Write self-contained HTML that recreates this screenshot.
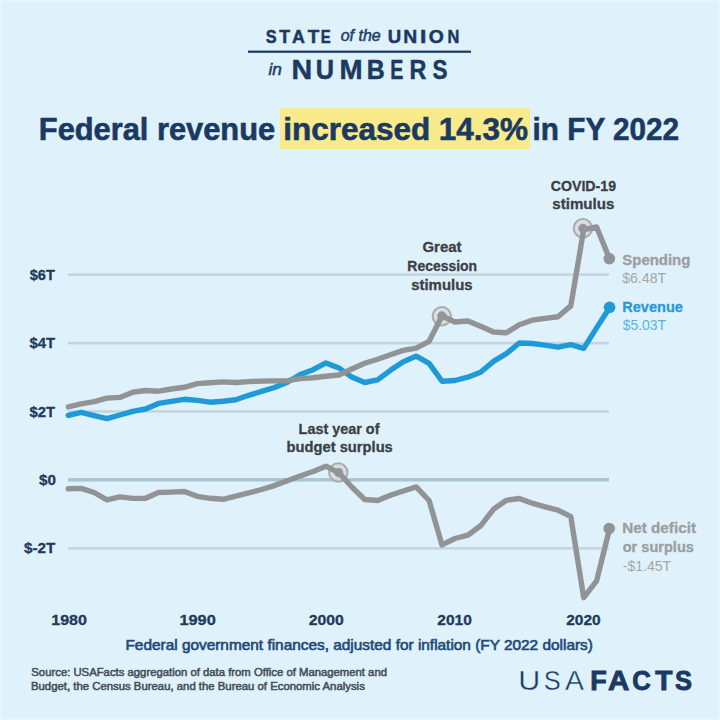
<!DOCTYPE html>
<html><head><meta charset="utf-8"><style>
html,body{margin:0;padding:0;background:#dff1fb;}
svg{display:block;}
text{font-family:"Liberation Sans",sans-serif;}
</style></head><body>
<svg width="720" height="720" viewBox="0 0 720 720">
<rect x="0" y="0" width="720" height="720" fill="#dff1fb"/>
<rect x="0.75" y="0.75" width="718.5" height="718.5" fill="none" stroke="#e3f7fc" stroke-width="1.5"/>
<text transform="translate(265.76,43.3) scale(0.868,1)" font-size="18.71" font-weight="bold" fill="#1a3a62" stroke="#1a3a62" stroke-width="0.5">S</text>
<text transform="translate(279.22,43.3) scale(0.951,1)" font-size="18.71" font-weight="bold" fill="#1a3a62" stroke="#1a3a62" stroke-width="0.5">T</text>
<text transform="translate(292.06,43.3) scale(0.955,1)" font-size="18.71" font-weight="bold" fill="#1a3a62" stroke="#1a3a62" stroke-width="0.5">A</text>
<text transform="translate(307.71,43.3) scale(1.005,1)" font-size="18.71" font-weight="bold" fill="#1a3a62" stroke="#1a3a62" stroke-width="0.5">T</text>
<text transform="translate(320.76,43.3) scale(0.792,1)" font-size="18.71" font-weight="bold" fill="#1a3a62" stroke="#1a3a62" stroke-width="0.5">E</text>
<text transform="translate(387.63,43.3) scale(0.993,1)" font-size="18.71" font-weight="bold" fill="#1a3a62" stroke="#1a3a62" stroke-width="0.5">U</text>
<text transform="translate(403.35,43.3) scale(1.032,1)" font-size="18.71" font-weight="bold" fill="#1a3a62" stroke="#1a3a62" stroke-width="0.5">N</text>
<text transform="translate(419.90,43.3) scale(1.221,1)" font-size="18.71" font-weight="bold" fill="#1a3a62" stroke="#1a3a62" stroke-width="0.5">I</text>
<text transform="translate(428.73,43.3) scale(1.031,1)" font-size="18.71" font-weight="bold" fill="#1a3a62" stroke="#1a3a62" stroke-width="0.5">O</text>
<text transform="translate(447.55,43.3) scale(0.875,1)" font-size="18.71" font-weight="bold" fill="#1a3a62" stroke="#1a3a62" stroke-width="0.5">N</text>
<text transform="translate(291.60,79.0) scale(1.027,1)" font-size="27.86" font-weight="bold" fill="#1a3a62" stroke="#1a3a62" stroke-width="0.5">N</text>
<text transform="translate(315.68,79.0) scale(0.909,1)" font-size="27.86" font-weight="bold" fill="#1a3a62" stroke="#1a3a62" stroke-width="0.5">U</text>
<text transform="translate(339.56,79.0) scale(0.995,1)" font-size="27.86" font-weight="bold" fill="#1a3a62" stroke="#1a3a62" stroke-width="0.5">M</text>
<text transform="translate(366.86,79.0) scale(0.894,1)" font-size="27.86" font-weight="bold" fill="#1a3a62" stroke="#1a3a62" stroke-width="0.5">B</text>
<text transform="translate(390.23,79.0) scale(0.705,1)" font-size="27.86" font-weight="bold" fill="#1a3a62" stroke="#1a3a62" stroke-width="0.5">E</text>
<text transform="translate(409.47,79.0) scale(0.838,1)" font-size="27.86" font-weight="bold" fill="#1a3a62" stroke="#1a3a62" stroke-width="0.5">R</text>
<text transform="translate(432.43,79.0) scale(0.808,1)" font-size="27.86" font-weight="bold" fill="#1a3a62" stroke="#1a3a62" stroke-width="0.5">S</text>
<text transform="translate(518.36,689.8) scale(1.125,1)" font-size="27.14" font-weight="normal" fill="#1a3a62" stroke="#dff1fb" stroke-width="0.35">U</text>
<text transform="translate(543.63,689.8) scale(0.937,1)" font-size="27.14" font-weight="normal" fill="#1a3a62" stroke="#dff1fb" stroke-width="0.35">S</text>
<text transform="translate(565.00,689.8) scale(1.047,1)" font-size="27.14" font-weight="normal" fill="#1a3a62" stroke="#dff1fb" stroke-width="0.35">A</text>
<text transform="translate(590.21,689.8) scale(0.995,1)" font-size="27.14" font-weight="bold" fill="#1a3a62" stroke="#1a3a62" stroke-width="0.9">F</text>
<text transform="translate(608.11,689.8) scale(1.089,1)" font-size="27.14" font-weight="bold" fill="#1a3a62" stroke="#1a3a62" stroke-width="0.9">A</text>
<text transform="translate(632.27,689.8) scale(0.947,1)" font-size="27.14" font-weight="bold" fill="#1a3a62" stroke="#1a3a62" stroke-width="0.9">C</text>
<text transform="translate(655.32,689.8) scale(1.037,1)" font-size="27.14" font-weight="bold" fill="#1a3a62" stroke="#1a3a62" stroke-width="0.9">T</text>
<text transform="translate(674.94,689.8) scale(0.939,1)" font-size="27.14" font-weight="bold" fill="#1a3a62" stroke="#1a3a62" stroke-width="0.9">S</text>
<rect x="248" y="50.6" width="223" height="2.2" fill="#1a3a62"/>
<rect x="280" y="108.2" width="250" height="40.8" fill="#f9eb8c"/>
<g fill="#c1d5dd">
<rect x="68" y="273.4" width="541" height="2.5"/>
<rect x="68" y="341.9" width="541" height="2.5"/>
<rect x="68" y="410.2" width="541" height="2.5"/>
<rect x="68" y="547.1" width="541" height="2.5"/>
</g>
<rect x="68" y="478.1" width="541" height="3.4" fill="#a9c5d1"/>
<text x="38.84" y="139.7" font-size="31" font-weight="bold" font-style="normal" fill="#1a3a62" stroke="#1a3a62" stroke-width="0.6" textLength="236.3" lengthAdjust="spacingAndGlyphs">Federal revenue</text>
<text x="283.3" y="139.7" font-size="31" font-weight="bold" font-style="normal" fill="#1a3a62" stroke="#1a3a62" stroke-width="0.6" textLength="244.73" lengthAdjust="spacingAndGlyphs">increased 14.3%</text>
<text x="532.62" y="139.7" font-size="31" font-weight="bold" font-style="normal" fill="#1a3a62" stroke="#1a3a62" stroke-width="0.6" textLength="146.33" lengthAdjust="spacingAndGlyphs">in FY 2022</text>
<text x="29.71" y="279.6" font-size="14.5" font-weight="bold" font-style="normal" fill="#1f3a5a" stroke="#1f3a5a" stroke-width="0.3" textLength="25.08" lengthAdjust="spacingAndGlyphs">$6T</text>
<text x="29.6" y="347.8" font-size="14.5" font-weight="bold" font-style="normal" fill="#1f3a5a" stroke="#1f3a5a" stroke-width="0.3" textLength="25.59" lengthAdjust="spacingAndGlyphs">$4T</text>
<text x="29.6" y="417" font-size="14.5" font-weight="bold" font-style="normal" fill="#1f3a5a" stroke="#1f3a5a" stroke-width="0.3" textLength="25.59" lengthAdjust="spacingAndGlyphs">$2T</text>
<text x="39.0" y="485.1" font-size="14.5" font-weight="bold" font-style="normal" fill="#1f3a5a" stroke="#1f3a5a" stroke-width="0.3" textLength="16.95" lengthAdjust="spacingAndGlyphs">$0</text>
<text x="24.1" y="553.2" font-size="14.5" font-weight="bold" font-style="normal" fill="#1f3a5a" stroke="#1f3a5a" stroke-width="0.3" textLength="31.3" lengthAdjust="spacingAndGlyphs">$-2T</text>
<text x="51.24" y="625" font-size="14.86" font-weight="bold" font-style="normal" fill="#1f3a5a" stroke="#1f3a5a" stroke-width="0.3" textLength="35.68" lengthAdjust="spacingAndGlyphs">1980</text>
<text x="179.42" y="625" font-size="14.86" font-weight="bold" font-style="normal" fill="#1f3a5a" stroke="#1f3a5a" stroke-width="0.3" textLength="36.31" lengthAdjust="spacingAndGlyphs">1990</text>
<text x="308.73" y="625" font-size="14.86" font-weight="bold" font-style="normal" fill="#1f3a5a" stroke="#1f3a5a" stroke-width="0.3" textLength="35.08" lengthAdjust="spacingAndGlyphs">2000</text>
<text x="437.34" y="625" font-size="14.86" font-weight="bold" font-style="normal" fill="#1f3a5a" stroke="#1f3a5a" stroke-width="0.3" textLength="34.46" lengthAdjust="spacingAndGlyphs">2010</text>
<text x="566.24" y="625" font-size="14.86" font-weight="bold" font-style="normal" fill="#1f3a5a" stroke="#1f3a5a" stroke-width="0.3" textLength="34.46" lengthAdjust="spacingAndGlyphs">2020</text>
<text x="125.47" y="650" font-size="15.41" font-weight="normal" font-style="normal" fill="#1f4a78" stroke="#1f4a78" stroke-width="0.65" textLength="467.41" lengthAdjust="spacingAndGlyphs">Federal government finances, adjusted for inflation (FY 2022 dollars)</text>
<text x="550.73" y="190.8" font-size="14.4" font-weight="bold" font-style="normal" fill="#3b4045" stroke="#3b4045" stroke-width="0.3" textLength="65.37" lengthAdjust="spacingAndGlyphs">COVID-19</text>
<text x="552.3" y="209" font-size="14.4" font-weight="bold" font-style="normal" fill="#3b4045" stroke="#3b4045" stroke-width="0.3" textLength="62.14" lengthAdjust="spacingAndGlyphs">stimulus</text>
<text x="422.4" y="251.6" font-size="14.4" font-weight="bold" font-style="normal" fill="#3b4045" stroke="#3b4045" stroke-width="0.3" textLength="39.19" lengthAdjust="spacingAndGlyphs">Great</text>
<text x="407.32" y="271.2" font-size="14.4" font-weight="bold" font-style="normal" fill="#3b4045" stroke="#3b4045" stroke-width="0.3" textLength="69.75" lengthAdjust="spacingAndGlyphs">Recession</text>
<text x="411.2" y="289.7" font-size="14.4" font-weight="bold" font-style="normal" fill="#3b4045" stroke="#3b4045" stroke-width="0.3" textLength="61.42" lengthAdjust="spacingAndGlyphs">stimulus</text>
<text x="298.59" y="433.7" font-size="14.4" font-weight="bold" font-style="normal" fill="#3b4045" stroke="#3b4045" stroke-width="0.3" textLength="80.86" lengthAdjust="spacingAndGlyphs">Last year of</text>
<text x="286.57" y="452.3" font-size="14.4" font-weight="bold" font-style="normal" fill="#3b4045" stroke="#3b4045" stroke-width="0.3" textLength="106.25" lengthAdjust="spacingAndGlyphs">budget surplus</text>
<text x="622.35" y="264.5" font-size="14.4" font-weight="bold" font-style="normal" fill="#9c9ea0" stroke="#9c9ea0" stroke-width="0.3" textLength="68.02" lengthAdjust="spacingAndGlyphs">Spending</text>
<text x="622.16" y="283.3" font-size="15" font-weight="normal" font-style="normal" fill="#a4a6a8" textLength="43.97" lengthAdjust="spacingAndGlyphs">$6.48T</text>
<text x="622.28" y="312.4" font-size="14.4" font-weight="bold" font-style="normal" fill="#2a98d6" stroke="#2a98d6" stroke-width="0.3" textLength="60.58" lengthAdjust="spacingAndGlyphs">Revenue</text>
<text x="622.66" y="330" font-size="15" font-weight="normal" font-style="normal" fill="#5eb0de" textLength="43.46" lengthAdjust="spacingAndGlyphs">$5.03T</text>
<text x="622.23" y="532.5" font-size="14.4" font-weight="bold" font-style="normal" fill="#9c9ea0" stroke="#9c9ea0" stroke-width="0.3" textLength="73.78" lengthAdjust="spacingAndGlyphs">Net deficit</text>
<text x="622.72" y="551.7" font-size="14.4" font-weight="bold" font-style="normal" fill="#9c9ea0" stroke="#9c9ea0" stroke-width="0.3" textLength="71.16" lengthAdjust="spacingAndGlyphs">or surplus</text>
<text x="622.74" y="570.8" font-size="15" font-weight="normal" font-style="normal" fill="#a4a6a8" textLength="48.43" lengthAdjust="spacingAndGlyphs">-$1.45T</text>
<text x="31.33" y="676" font-size="10.55" font-weight="normal" font-style="normal" fill="#444e57" stroke="#444e57" stroke-width="0.5" textLength="355.68" lengthAdjust="spacingAndGlyphs">Source: USAFacts aggregation of data from Office of Management and</text>
<text x="30.99" y="689.9" font-size="10.55" font-weight="normal" font-style="normal" fill="#444e57" stroke="#444e57" stroke-width="0.5" textLength="333.83" lengthAdjust="spacingAndGlyphs">Budget, the Census Bureau, and the Bureau of Economic Analysis</text>
<text x="340.72" y="40.8" font-size="15.75" font-weight="normal" font-style="italic" fill="#213f66" stroke="#213f66" stroke-width="0.5" textLength="39.95" lengthAdjust="spacingAndGlyphs">of the</text>
<text x="268.56" y="75.4" font-size="15.75" font-weight="normal" font-style="italic" fill="#213f66" stroke="#213f66" stroke-width="0.5" textLength="13.38" lengthAdjust="spacingAndGlyphs">in</text>
<g fill="#d6dadd" fill-opacity="0.8" stroke="#a9acae" stroke-width="2">
<circle cx="441.8" cy="316.2" r="9.2"/>
<circle cx="582.9" cy="228.3" r="9.2"/>
<circle cx="338.3" cy="472.5" r="9.2"/>
</g>
<g fill="none" stroke-width="5.4" stroke-linejoin="round" stroke-linecap="round">
<polyline stroke="#1f9ad8" points="68.3,415.4 81.2,412.4 94.1,415.6 107.0,418.7 119.8,415.0 132.7,411.3 145.6,409.0 158.5,403.4 171.4,401.4 184.3,399.3 197.2,400.4 210.0,402.2 222.9,401.3 235.8,399.7 248.7,395.3 261.6,391.4 274.5,387.5 287.4,382.2 300.2,374.5 313.1,369.7 326.0,362.9 338.9,367.9 351.8,377.1 364.7,382.5 377.6,379.8 390.4,370.3 403.3,361.8 416.2,356.1 429.1,363.4 442.0,381.2 454.9,380.5 467.8,377.2 480.6,372.3 493.5,361.4 506.4,353.6 519.3,343.0 532.2,343.5 545.1,345.1 558.0,347.2 570.8,344.6 583.7,348.4 596.6,327.9 609.5,307.8"/>
<polyline stroke="#919395" points="68.3,406.8 81.2,403.9 94.1,401.6 107.0,398.1 119.8,397.4 132.7,392.2 145.6,390.5 158.5,391.2 171.4,389.0 184.3,387.3 197.2,383.6 210.0,382.8 222.9,381.9 235.8,382.5 248.7,381.6 261.6,381.1 274.5,380.9 287.4,380.7 300.2,378.6 313.1,377.7 326.0,376.3 338.9,375.0 351.8,369.0 364.7,363.3 377.6,359.2 390.4,354.7 403.3,350.4 416.2,348.1 429.1,341.3 442.0,316.0 454.9,322.0 467.8,321.0 480.6,326.2 493.5,332.0 506.4,332.7 519.3,324.7 532.2,320.2 545.1,318.4 558.0,316.8 570.8,305.9 583.7,229.6 596.6,227.0 609.5,258.7"/>
<polyline stroke="#919395" points="68.3,488.8 81.2,488.4 94.1,492.5 107.0,499.8 119.8,496.9 132.7,498.4 145.6,498.3 158.5,492.5 171.4,492.1 184.3,491.5 197.2,496.3 210.0,498.3 222.9,499.3 235.8,496.1 248.7,492.9 261.6,489.5 274.5,485.6 287.4,480.7 300.2,476.0 313.1,471.5 326.0,466.2 338.9,472.8 351.8,487.0 364.7,499.5 377.6,500.5 390.4,495.3 403.3,491.0 416.2,486.9 429.1,500.5 442.0,544.9 454.9,538.5 467.8,535.2 480.6,525.8 493.5,509.3 506.4,500.3 519.3,498.5 532.2,503.2 545.1,506.8 558.0,510.1 570.8,516.6 583.7,597.7 596.6,580.9 609.5,528.9"/>
</g>
<g fill="#939597">
<circle cx="441.9" cy="315.9" r="4.6"/>
<circle cx="582.9" cy="228.4" r="4.6"/>
<circle cx="338.6" cy="472.6" r="4.6"/>
</g>
<circle cx="609.3" cy="258.6" r="5.8" fill="#919395"/>
<circle cx="609.6" cy="307.3" r="5.8" fill="#1f9ad8"/>
<circle cx="609.2" cy="528.5" r="5.8" fill="#919395"/>
</svg>
</body></html>
